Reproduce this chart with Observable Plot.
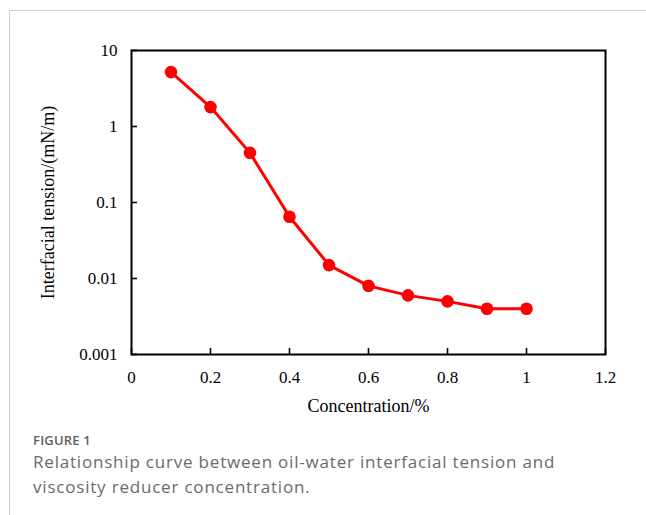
<!DOCTYPE html>
<html>
<head>
<meta charset="utf-8">
<script src="https://cdn.jsdelivr.net/npm/d3@7"></script>
<script src="https://cdn.jsdelivr.net/npm/@observablehq/plot@0.6"></script>
<style>
  html, body { margin: 0; padding: 0; background: #fff; }
  #page { position: relative; width: 646px; height: 515px; overflow: hidden; background: #fff; }
  #card { position: absolute; left: 9px; top: 10px; right: -2px; bottom: -2px;
          border-left: 1px solid #cfcfcf; border-top: 1px solid #cfcfcf; }
  #chart { position: absolute; left: 0; top: 0; }
  #fig { position: absolute; left: 33px; top: 433.5px; font-family: "Open Sans", sans-serif;
         font-size: 13px; line-height: 13px; font-weight: 600; color: #5f5f5f; letter-spacing: 0.2px; white-space: nowrap; }
  #cap { position: absolute; left: 33px; top: 448.5px; width: 560px; font-family: "Open Sans", sans-serif;
         font-size: 17px; line-height: 25px; font-weight: 400; color: #6a6a6a; letter-spacing: 0.8px; }
</style>
</head>
<body>
<div id="page">
  <div id="card"></div>
  <div id="chart"></div>
  <div id="fig">FIGURE 1</div>
  <div id="cap">Relationship curve between oil-water interfacial tension and<br>viscosity reducer concentration.</div>
</div>
<script>
const concentration = [0.1, 0.2, 0.3, 0.4, 0.5, 0.6, 0.7, 0.8, 0.9, 1.0];
const tension = [5.2, 1.8, 0.45, 0.065, 0.015, 0.008, 0.006, 0.005, 0.004, 0.004];
const xTicks = [0, 0.2, 0.4, 0.6, 0.8, 1, 1.2];
const yTicks = [0.001, 0.01, 0.1, 1, 10];
const xLabel = "Concentration/%";
const yLabel = "Interfacial tension/(mN/m)";

const data = concentration.map((c, i) => ({c, t: tension[i]}));
const fmt = d3.format("~g");

const W = 646, H = 420, ML = 131, MR = 41, MT = 50, MB = 66, TICK = 6;
const chart = Plot.plot({
  width: W,
  height: H,
  marginLeft: ML,
  marginRight: MR,
  marginTop: MT,
  marginBottom: MB,
  style: {fontFamily: "'Liberation Serif', 'Times New Roman', serif", fontSize: "17px", color: "#000", background: "transparent", overflow: "visible"},
  x: {domain: [0, 1.2], label: null},
  y: {type: "log", domain: [0.001, 10], label: null},
  marks: [
    Plot.ruleX(xTicks, {x: d => d, insetTop: H - MT - MB - TICK, stroke: "#000", strokeWidth: 1.6}),
    Plot.ruleY(yTicks, {y: d => d, insetRight: W - ML - MR - TICK, stroke: "#000", strokeWidth: 1.6}),
    Plot.axisX(xTicks, {anchor: "bottom", tickSize: 0, tickPadding: 16, tickFormat: fmt,
      label: xLabel, labelAnchor: "center", labelArrow: false, labelOffset: 57, fontSize: 17}),
    Plot.axisY(yTicks, {anchor: "left", tickSize: 0, tickPadding: 14, tickFormat: fmt,
      label: yLabel, labelAnchor: "center", labelArrow: false, labelOffset: 90, fontSize: 17}),
    Plot.frame({stroke: "#000", strokeWidth: 2}),
    Plot.line(data, {x: "c", y: "t", stroke: "#ff0000", strokeWidth: 3}),
    Plot.dot(data, {x: "c", y: "t", r: 6.3, fill: "#ff0000", stroke: "none"})
  ]
});
chart.querySelectorAll("g[aria-label='x-axis label'] text, g[aria-label='y-axis label'] text").forEach(t => t.setAttribute("font-size", "18"));
document.getElementById("chart").appendChild(chart);
</script>
</body>
</html>
